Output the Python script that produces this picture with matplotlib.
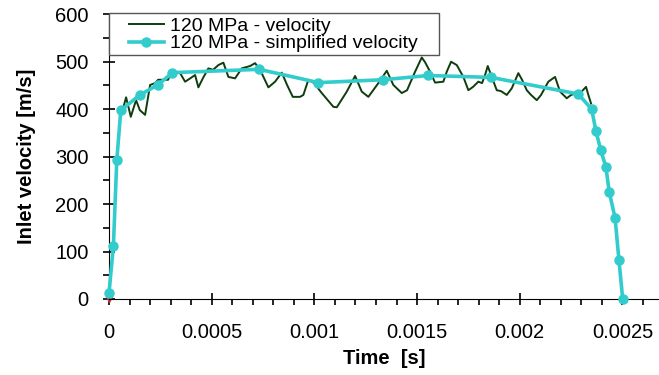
import numpy as np
import matplotlib.pyplot as plt
from matplotlib.ticker import MultipleLocator
from matplotlib.patches import Rectangle

plt.rcParams['font.family'] = ['Liberation Sans', 'DejaVu Sans']

# measured inlet velocity at 120 MPa (time in s, velocity in m/s)
t_vel = [0.0000623, 0.0000833, 0.0001061, 0.0001319, 0.0001501, 0.0001758,
         0.0002001, 0.0002245, 0.0002390, 0.0002649, 0.0002877, 0.0003057,
         0.0003462, 0.0003705, 0.0003851, 0.0004192, 0.0004352, 0.0004581,
         0.0004839, 0.0005068, 0.0005326, 0.0005570, 0.0005813, 0.0006139,
         0.0006465, 0.0006870, 0.0007113, 0.0007357, 0.0007760, 0.0008087,
         0.0008413, 0.0008671, 0.0008948, 0.0009304, 0.0009464, 0.0009708,
         0.0009985, 0.0010360, 0.0010925, 0.0011091, 0.0011577, 0.0011982,
         0.0012308, 0.0012629, 0.0013116, 0.0013525, 0.0013846, 0.0014255,
         0.0014513, 0.0014903, 0.0015229, 0.0015390, 0.0015633, 0.0015877,
         0.0016281, 0.0016446, 0.0016655, 0.0016933, 0.0017254, 0.0017498,
         0.0017726, 0.0017984, 0.0018165, 0.0018311, 0.0018442, 0.0018637,
         0.0018880, 0.0019090, 0.0019367, 0.0019611, 0.0019932, 0.0020112,
         0.0020341, 0.0020550, 0.0020828, 0.0021037, 0.0021392, 0.0021719,
         0.0021962, 0.0022288, 0.0022498, 0.0022775, 0.0022985, 0.0023228,
         0.0023340, 0.0023471]
v_vel = [392, 425, 384, 419, 398, 388, 451, 455, 462, 462, 462, 481,
         476, 458, 462, 472, 446, 466, 486, 483, 493, 498, 468, 465,
         486, 491, 497, 483, 446, 458, 477, 451, 426, 426, 430, 462,
         455, 434, 405, 404, 437, 470, 437, 426, 455, 481, 451, 434,
         440, 479, 509, 499, 479, 456, 458, 479, 500, 493, 468, 440,
         447, 458, 455, 472, 491, 468, 440, 438, 430, 444, 476, 462,
         440, 430, 419, 430, 458, 468, 437, 423, 430, 434, 436, 447,
         430, 412]

# simplified velocity profile
t_simp = [0.0, 0.0000214, 0.0000380, 0.0000575, 0.000151, 0.000240, 0.000309,
          0.000731, 0.001020, 0.001333, 0.001555, 0.001860, 0.002285,
          0.002350, 0.002371, 0.002394, 0.002419, 0.002436, 0.002464,
          0.002483, 0.002501]
v_simp = [12, 112, 293, 398, 430, 452, 477, 484, 456, 462, 471, 467, 432,
          400, 354, 314, 279, 225, 171, 82, 1]

xtick_vals = [0, 0.0005, 0.001, 0.0015, 0.002, 0.0025]
xtick_text = ['0', '0.0005', '0.001', '0.0015', '0.002', '0.0025']

fs = 14.5

fig = plt.figure(figsize=(6.59, 3.75), dpi=100)
ax = fig.add_axes([0.1654, 0.2027, 0.8346, 0.7592])

ax.plot(t_vel, v_vel, color='#0d3d0d', lw=1.4, label='120 MPa - velocity')
ax.plot(t_simp, v_simp, color='#33cccc', lw=2.6, marker='o', ms=6.5,
        label='120 MPa - simplified velocity', clip_on=False, zorder=3)
ax.plot([0], [0], marker='v', color='#cc3333', ms=4, clip_on=False, zorder=2)

ax.set_xlim(0, 0.002678)
ax.set_ylim(0, 600)
ax.set_xticks(xtick_vals)
ax.set_xticklabels(xtick_text)
ax.xaxis.set_minor_locator(MultipleLocator(0.0001))
ax.yaxis.set_major_locator(MultipleLocator(100))
ax.yaxis.set_minor_locator(MultipleLocator(50))

for s in ['top', 'right']:
    ax.spines[s].set_visible(False)
ax.tick_params(which='major', direction='inout', length=9, width=1.2,
               labelsize=fs, colors='black')
ax.tick_params(axis='y', which='major', pad=10)
ax.tick_params(axis='x', which='major', pad=13)
ax.tick_params(which='minor', direction='out', length=4, width=1.2)

ax.set_xlabel('Time  [s]', fontsize=fs, fontweight='bold', labelpad=5)
ax.set_ylabel('Inlet velocity [m/s]', fontsize=fs, fontweight='bold', labelpad=14)

# legend box drawn flush with the axes corner
ax.add_patch(Rectangle((0, 0.857), 0.6, 0.148, transform=ax.transAxes,
                       facecolor='white', edgecolor='#555555', lw=1.0,
                       clip_on=False, zorder=4))
leg = ax.legend(loc='upper left', bbox_to_anchor=(0.036, 0.99), fontsize=14,
                frameon=False, borderaxespad=0, borderpad=0,
                labelspacing=0.0, handlelength=1.8, handletextpad=0.3)
leg.set_zorder(5)

fig.savefig('out.png', dpi=100)
